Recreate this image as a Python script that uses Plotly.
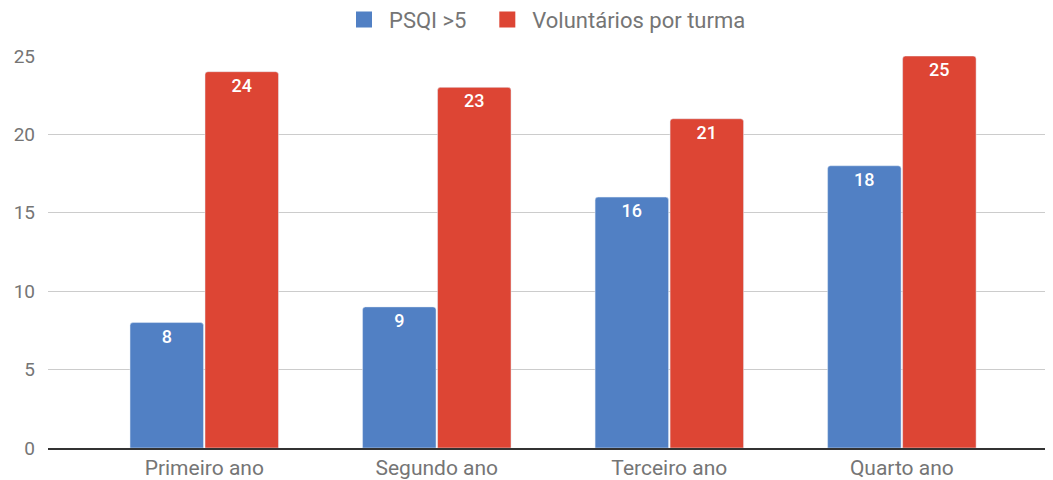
import plotly.graph_objects as go

categories = ["Primeiro ano", "Segundo ano", "Terceiro ano", "Quarto ano"]
psqi = [8, 9, 16, 18]
voluntarios = [24, 23, 21, 25]
y_ticks = [0, 5, 10, 15, 20, 25]
names = ["PSQI >5", "Voluntários por turma"]
colors = ["#5180c4", "#dd4534"]

fig = go.Figure()
for vals, name, col in zip([psqi, voluntarios], names, colors):
    fig.add_trace(go.Bar(x=categories, y=vals, name=name, marker_color=col, showlegend=False,
                         marker_cornerradius=3,
                         text=vals, textposition="inside", insidetextanchor="end",
                         textfont=dict(color="white", size=18, family="Roboto", weight=500),
                         textangle=0))
# legend entries with larger square swatches
for name, col in zip(names, colors):
    fig.add_trace(go.Scatter(x=[None], y=[None], mode="markers", name=name + "  ",
                             marker=dict(symbol="square", size=21, color=col)))

fig.update_layout(
    width=1045, height=472,
    margin=dict(l=40, r=0, t=48, b=25),
    plot_bgcolor="white", paper_bgcolor="white",
    barmode="group", bargap=0.355, bargroupgap=0.02,
    font=dict(family="Roboto", size=21, color="#757575"),
    legend=dict(orientation="h", x=0.5, xanchor="center", y=0.975, yref="container",
                yanchor="middle", font=dict(size=22, color="#757575"), itemsizing="trace",
                itemwidth=40, tracegroupgap=0),
    uniformtext=dict(mode=False),
)
fig.update_xaxes(range=[-0.672, 3.65], showgrid=False, showline=True, linecolor="#333333",
                 linewidth=1.5, ticks="", tickfont=dict(size=21, color="#757575"))
fig.update_yaxes(range=[0, 25], tickvals=y_ticks, showgrid=True, gridcolor="#cccccc",
                 zeroline=False, ticks="", tickfont=dict(size=19, color="#757575"),
                 ticklabelstandoff=12)

fig.write_html("out.html")
